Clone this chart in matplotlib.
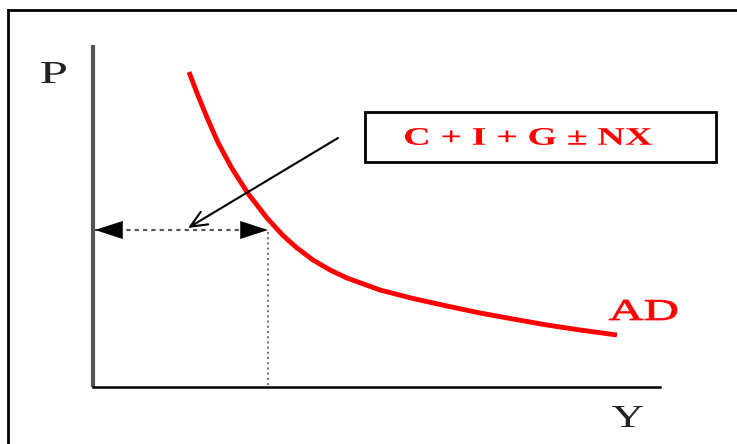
import numpy as np
import matplotlib.pyplot as plt
from matplotlib.patches import Rectangle, PathPatch
from matplotlib.textpath import TextPath
from matplotlib.font_manager import FontProperties
from matplotlib.transforms import Affine2D

# AD curve (diagram units, y grows downward like the slide)
ad_y = [189, 197, 207, 218, 232, 248, 267, 283, 297, 313, 330, 347, 380, 413, 447, 480, 513, 547, 580, 617]
ad_p = [72, 93, 117.5, 142.5, 168.5, 193.5, 218, 235.5, 248, 260, 270, 278, 290, 298.5, 306, 313, 319, 325, 330, 335]

# equilibrium point
y0, p0 = 268, 230
origin_x, origin_y = 93, 387
axis_top, axis_right = 45, 660

box_label = "C + I + G \u00b1 NX"
curve_label = "AD"
xlab, ylab = "Y", "P"

fig = plt.figure(figsize=(7.37, 4.44), dpi=100)
ax = fig.add_axes([0, 0, 1, 1])
ax.set_xlim(0, 737)
ax.set_ylim(444, 0)
ax.axis('off')


def fit_text(s, x0, x1, top, base, color, prop, lw=0):
    # draw text as a path stretched into the given box
    tp = TextPath((0, 0), s, size=10, prop=prop)
    ext = tp.get_extents()
    sx = (x1 - x0) / ext.width
    sy = (base - top) / ext.height
    tr = Affine2D().translate(-ext.x0, -ext.y0).scale(sx, -sy).translate(x0, base) + ax.transData
    ax.add_patch(PathPatch(tp, transform=tr, fc=color, ec=color, lw=lw))


serif = FontProperties(family='Liberation Serif')
serif_b = FontProperties(family='Liberation Serif', weight='bold')

# slide frame
ax.plot([8, 8], [10, 444], color='black', lw=2)
ax.plot([8, 737], [10, 10], color='black', lw=2)

# axes
ax.plot([origin_x, origin_x], [axis_top, origin_y], color='#555555', lw=3, solid_capstyle='butt')
ax.plot([origin_x, axis_right], [origin_y, origin_y], color='black', lw=1.8)
fit_text(ylab, 41, 66, 62, 83, '#222222', serif)
fit_text(xlab, 612, 643, 406, 427, '#222222', serif)

# dotted guides
ax.plot([origin_x, y0], [p0, p0], color='#555555', lw=1.5, ls=(0, (2, 2)))
ax.plot([y0, y0], [p0 + 2, origin_y], color='#777777', lw=1.5, ls=(0, (1, 1.5)))
head = dict(arrowstyle='-|>,head_length=0.4,head_width=0.13', mutation_scale=50,
            color='black', lw=0, shrinkA=0, shrinkB=0)
ax.annotate('', xy=(origin_x + 2, p0), xytext=(origin_x + 40, p0), arrowprops=head)
ax.annotate('', xy=(y0, p0), xytext=(y0 - 40, p0), arrowprops=head)

# AD curve
ax.plot(ad_y, ad_p, color='red', lw=3.5, solid_capstyle='butt', solid_joinstyle='round')
fit_text(curve_label, 609, 677, 300, 320, 'red', serif, lw=0.6)

# label box and pointer
ax.add_patch(Rectangle((365, 112), 351, 50, fill=False, ec='black', lw=2))
fit_text(box_label, 405, 652, 128, 145, 'red', serif_b)
ax.annotate('', xy=(188, 228), xytext=(338, 138),
            arrowprops=dict(arrowstyle='->,head_length=0.8,head_width=0.35', mutation_scale=15,
                            color='black', lw=1.5, shrinkA=0, shrinkB=0))

fig.savefig('out.png', dpi=100)
